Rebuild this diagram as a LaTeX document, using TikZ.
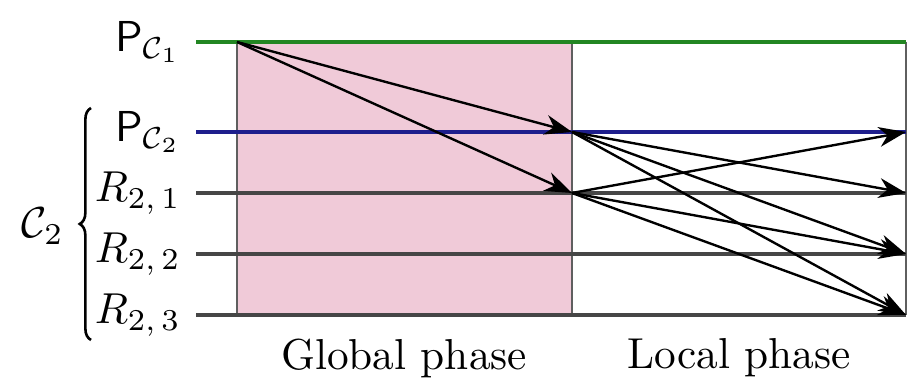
\documentclass[tikz,border=0pt]{standalone}
\usepackage{amsmath}
\usetikzlibrary{arrows.meta,positioning,decorations.pathreplacing}
\definecolor{phasepink}{RGB}{240,202,216}
\definecolor{linegreen}{RGB}{34,134,34}
\definecolor{lineblue}{RGB}{30,30,140}
\definecolor{linegray}{RGB}{70,70,70}
\definecolor{boxgray}{RGB}{95,95,95}
\begin{document}
\begin{tikzpicture}[x=0.231pt,y=-0.231pt,>={Stealth[length=6.3pt,width=4.6pt,inset=2pt]},
every node/.style={font=\normalsize},ln/.style={line width=0.9pt},
bx/.style={draw=boxgray,line width=0.5pt},ar/.style={->,line width=0.55pt}]
\useasboundingbox (0,0) rectangle (918,391);
\foreach \r/\y in {1/42,2/132,3/193,4/254,5/315}{
\coordinate (a\r) at (196,\y);\coordinate (g\r) at (237,\y);
\coordinate (m\r) at (572,\y);\coordinate (e\r) at (906,\y);}
% phases
\fill[phasepink] (g1) rectangle (m5);
\draw[bx] (g5)--(g1) (m1)--(m5) (e1)--(e5);
\node (gp) at (404,358) {Global phase};
\node (lp) at (739,358) {Local phase};
% processes
\draw[ln,linegreen] (a1)--(e1);\draw[ln,lineblue] (a2)--(e2);
\foreach \r in {3,4,5} \draw[ln,linegray] (a\r)--(e\r);
\node[left] (p1) at (a1) {$\mathsf{P}_{\mathcal{C}_1}$};
\node[left] (p2) at (a2) {$\mathsf{P}_{\mathcal{C}_2}$};
\node[left] (r1) at (a3) {$R_{2,\,1}$};
\node[left] (r2) at (a4) {$R_{2,\,2}$};
\node[left] (r3) at (a5) {$R_{2,\,3}$};
\draw[line width=0.6pt,decorate,decoration={brace,amplitude=2.6pt}] (91,340)--(91,108);
\coordinate (bt) at (79,226);
\node[left] (c2) at (bt) {$\mathcal{C}_2$};
% messages
\foreach \t in {2,3} \draw[ar] (g1)--(m\t);
\foreach \t in {3,4,5} \draw[ar] (m2)--(e\t);
\foreach \t in {2,4,5} \draw[ar] (m3)--(e\t);
\end{tikzpicture}
\end{document}
